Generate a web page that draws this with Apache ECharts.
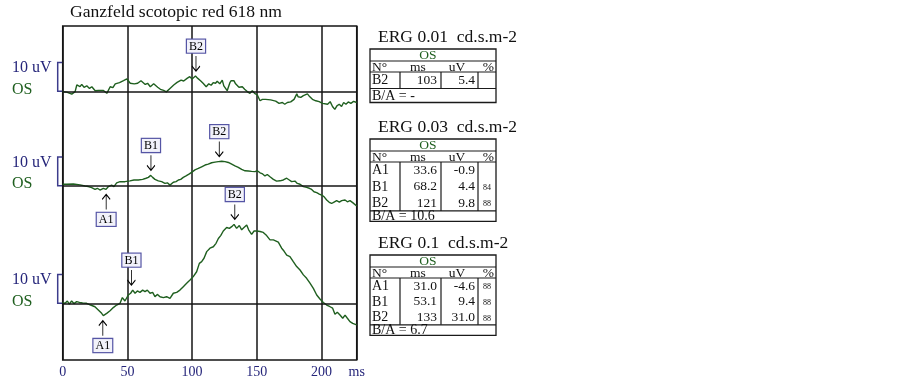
<!DOCTYPE html>
<html>
<head>
<meta charset="utf-8">
<script src="https://cdn.jsdelivr.net/npm/echarts@6/dist/echarts.min.js"></script>
<style>
  html, body { margin: 0; padding: 0; background: #fff; }
  #chart { width: 903px; height: 380px; }
</style>
</head>
<body>
<div id="chart"></div>
<script>
// ---- data ----
let chartTitle = 'Ganzfeld scotopic red 618 nm';
let eyeLabel   = 'OS';
let scaleLabel = '10 uV';
let scaleUv    = 10;
let xTicks     = [0, 50, 100, 150, 200];
let xUnit      = 'ms';

// trace 1 : ERG 0.01
let trace1Ms = [0,3.1,7.0,9.6,10.9,13.4,14.7,16.5,18.6,20.7,22.5,25.1,27.6,31.5,34.1,36.7,38.8,40.6,43.9,47.0,
  49.6,52.2,55.3,57.9,60.5,63.8,65.6,67.7,70.3,73.4,75.5,78.0,80.1,82.7,85.8,88.4,91.5,93.5,96.1,98.2,
  100.0,101.3,102.6,104.4,106.5,108.5,110.9,112.9,114.7,116.3,118.1,119.4,121.4,123.3,124.5,125.8,127.1,129.2,130.2,132.3,
  133.6,136.2,138.8,140.6,142.6,144.7,146.5,148.3,150.4,152.5,154.3,156.8,160.7,164.6,167.2,169.8,171.6,173.6,176.2,178.8,
  180.9,181.9,184.0,186.0,189.1,190.4,193.0,195.6,198.2,200.8,202.1,204.7,206.7,208.5,210.3,211.9,213.7,215.5,217.1,218.9,
  220.7,222.7,224.8,227.2];
let trace1Uv = [-0.1,-0.3,-1.0,-0.1,2.2,1.6,2.4,1.4,1.9,1.0,1.6,0.2,0.3,0.3,-0.7,1.6,1.3,2.6,3.0,3.7,
  4.3,2.8,2.6,2.8,3.7,2.4,2.8,1.6,2.6,1.4,0.7,0.3,-0.2,0.9,2.2,3.1,3.9,3.6,4.5,5.1,
  4.3,3.9,5.3,4.5,3.7,2.8,1.6,2.6,2.1,3.0,2.8,3.5,2.6,3.9,1.9,1.6,0.2,3.0,3.7,3.7,
  2.6,1.4,1.6,0.7,-0.1,-0.7,0.2,-0.7,-1.3,-3.3,-2.8,-2.8,-3.0,-3.4,-4.2,-3.9,-4.5,-3.9,-3.7,-2.8,
  -0.9,-1.9,-2.1,-1.5,-0.9,-1.6,-2.8,-3.3,-3.6,-4.2,-3.9,-4.5,-3.6,-5.3,-6.3,-5.1,-4.5,-5.3,-3.9,-4.5,
  -3.7,-4.2,-3.5,-3.9];

// trace 2 : ERG 0.03
let trace2Ms = [0,3.1,8.2,13.4,17.2,19.8,22.4,25.0,26.8,28.8,31.4,33.5,35.3,36.6,37.8,39.6,41.7,44.3,48.1,52.0,
  55.1,58.4,61.8,64.4,66.2,68.0,69.5,71.3,73.9,76.5,79.0,80.9,82.9,84.2,85.5,87.6,89.4,91.2,93.2,95.3,
  97.9,100.4,102.2,104.8,107.4,110.0,112.5,115.1,117.7,120.3,122.9,125.4,128.0,130.6,133.1,135.7,138.3,140.9,143.5,146.0,
  148.6,150.4,152.5,154.5,156.3,158.1,160.2,162.8,165.3,167.9,170.5,173.1,175.1,176.9,179.5,181.3,183.4,186.0,188.5,190.6,
  192.4,194.2,196.3,198.3,200.1,201.9,204.0,206.0,207.8,209.7,211.7,213.8,215.6,218.2,220.0,222.0,224.1,227.2];
let trace2Uv = [0.5,0.5,0.6,0.3,-0.1,-0.3,-0.7,-1.3,-0.9,-1.5,-0.9,-1.3,-0.3,-0.9,0.2,-0.3,1.0,1.4,1.4,1.7,
  2.0,2.0,2.2,2.6,2.9,3.6,2.9,2.2,1.7,1.4,0.8,1.0,0.2,0.6,1.2,1.4,2.0,2.2,2.9,3.4,
  4.1,4.9,5.5,6.0,6.6,7.2,7.5,8.0,8.2,8.4,8.5,8.4,8.1,7.5,6.9,6.4,5.7,5.2,5.1,5.0,
  4.9,5.2,4.5,4.1,3.4,3.9,3.1,2.2,1.6,1.7,2.0,2.6,2.0,1.4,1.6,0.8,0.5,-0.3,-0.6,-0.9,
  -1.3,-2.1,-2.4,-2.9,-3.3,-3.8,-5.0,-5.8,-6.2,-5.7,-5.2,-5.7,-5.2,-5.0,-5.6,-5.2,-5.9,-7.1];

// trace 3 : ERG 0.1
let trace3Ms = [0,1.8,3.6,5.1,6.9,8.7,10.8,12.9,15.4,18.5,21.6,24.9,27.5,30.1,31.4,34.0,36.6,39.1,41.7,44.3,
  46.1,48.1,49.4,50.7,52.5,54.1,55.9,57.7,59.7,61.8,63.6,65.4,67.5,69.5,71.3,73.1,75.2,77.8,80.3,82.9,
  85.5,88.1,90.6,93.2,95.8,98.4,100.9,103.5,105.6,107.4,109.2,111.3,113.8,116.4,118.5,120.3,122.1,124.1,126.7,128.8,
  130.6,132.4,134.4,136.5,138.3,140.1,142.2,143.7,146.0,147.9,149.9,152.5,155.0,157.6,160.2,162.8,166.6,169.2,171.0,173.1,
  175.6,178.2,180.8,183.4,186.0,188.5,191.1,193.7,196.3,198.8,201.4,204.0,206.6,208.6,210.4,212.2,214.3,216.4,218.2,220.0,
  222.0,224.1,227.2];
let trace3Uv = [0.3,0,0.8,-0.3,0.8,-0.1,0.6,0.3,0.1,0,-0.6,-1.2,-2.3,-3.5,-4.3,-3.5,-2.6,-1.5,-0.6,0,
  2.0,0.8,1.2,2.9,3.5,4.6,3.5,4.3,3.8,4.6,4.1,4.6,3.5,3.8,2.3,3.1,2.3,2.0,2.3,1.7,
  3.5,3.8,4.6,5.8,7.0,8.1,9.3,11.0,13.9,14.5,15.7,18.0,19.2,19.7,20.9,22.6,23.6,25.2,26.4,26.1,
  26.7,27.5,26.1,27.1,25.6,26.4,27.3,25.6,24.0,25.2,25.2,25.0,24.7,23.6,22.1,22.1,21.3,19.2,18.2,16.8,
  16.3,14.5,12.8,11.6,9.9,8.7,7.0,5.2,2.9,1.5,0.3,-0.6,-1.2,-1.7,-3.8,-3.1,-4.1,-5.2,-4.1,-5.2,
  -6.4,-7.0,-7.5];

// peak markers: name, ms, uV on the trace, arrow direction
let trace1Marks = [['B2', 103, 5.3, 'down']];
let trace2Marks = [['A1', 33.6, -1.3, 'up'], ['B1', 68.2, 3.6, 'down'], ['B2', 121, 8.4, 'down']];
let trace3Marks = [['A1', 31.0, -4.3, 'up'], ['B1', 53.1, 4.6, 'down'], ['B2', 133, 27.5, 'down']];

// result tables
let tableTitles = ['ERG 0.01  cd.s.m-2', 'ERG 0.03  cd.s.m-2', 'ERG 0.1  cd.s.m-2'];
let tableHeader = ['N\u00b0', 'ms', 'uV', '%'];
let table1Rows  = [['B2', '103', '5.4', '']];
let table2Rows  = [['A1', '33.6', '-0.9', ''], ['B1', '68.2', '4.4', '84'], ['B2', '121', '9.8', '88']];
let table3Rows  = [['A1', '31.0', '-4.6', '88'], ['B1', '53.1', '9.4', '88'], ['B2', '133', '31.0', '88']];
let tableRatios = ['B/A = -', 'B/A = 10.6', 'B/A = 6.7'];

// ---- layout ----
const SERIF      = 'Liberation Serif';
const GREEN      = '#1f5f1f';
const NAVY       = '#25257a';
const GRID_TOP   = 26;
const GRID_BOT   = 360;
const PX_PER_UV  = 2.87;
const BASELINES  = [91.3, 185.7, 303.3];   // pixel row of each trace's zero line
const X_MAX      = 227.2;

const ARROW_DOWN = 'path://M4,0L4,15M0.5,10L4,15L7.5,10';
const ARROW_UP   = 'path://M4,15L4,0M0.5,5L4,0L7.5,5';

let traces = [[trace1Ms, trace1Uv, trace1Marks], [trace2Ms, trace2Uv, trace2Marks], [trace3Ms, trace3Uv, trace3Marks]];

function yAxisFor(i){
    let b = BASELINES[i];
    return {
        type: 'value', gridIndex: 0, show: false,
        min: -(GRID_BOT - b) / PX_PER_UV,
        max: (b - GRID_TOP) / PX_PER_UV,
        splitLine: { show: false }
    };
}

function markPointFor(marks){
    let data = [];
    for(let i = 0; i < marks.length; i++){
        let m = marks[i];
        let down = m[3] === 'down';
        data.push({
            name: m[0],
            coord: [m[1], m[2]],
            symbol: down ? ARROW_DOWN : ARROW_UP,
            symbolSize: [8, 15],
            symbolOffset: [0, down ? -12.5 : 12.5],
            label: { position: down ? 'top' : 'bottom' }
        });
    }
    return {
        silent: true,
        data: data,
        itemStyle: { color: 'none', borderColor: '#000', borderWidth: 1.1 },
        label: {
            show: true, formatter: '{b}', distance: 0,
            color: '#000', fontFamily: SERIF, fontSize: 12, lineHeight: 12,
            backgroundColor: '#f2f2fa', borderColor: '#5555a5', borderWidth: 1.2,
            padding: [1, 2, 0, 2]
        }
    };
}

let series = [];
let yAxes  = [];
for(let i = 0; i < traces.length; i++){
    let t = traces[i];
    let data = [];
    for(let k = 0; k < t[0].length; k++){
        data.push([t[0][k], t[1][k]]);
    }
    yAxes.push(yAxisFor(i));
    series.push({
        type: 'line',
        yAxisIndex: i,
        data: data,
        showSymbol: false,
        symbol: 'none',
        lineStyle: { color: GREEN, width: 1.4 },
        z: 3,
        markLine: {
            silent: true,
            symbol: ['none', 'none'],
            label: { show: false },
            lineStyle: { color: '#151515', width: 1.5, type: 'solid' },
            data: [{ yAxis: 0 }]
        },
        markPoint: markPointFor(t[2])
    });
}

let option = {
    animation: false,
    backgroundColor: '#fff',
    title: {
        text: chartTitle, left: 70, top: 3, padding: 0,
        textStyle: { fontFamily: SERIF, fontSize: 17.6, fontWeight: 'normal', color: '#111' }
    },
    grid: {
        left: 62.7, right: 903 - 356.7, top: GRID_TOP, bottom: 380 - GRID_BOT,
        show: true, borderColor: '#151515', borderWidth: 1.5, backgroundColor: 'transparent'
    },
    xAxis: {
        type: 'value', min: 0, max: X_MAX, interval: 50,
        axisLine: { show: false },
        axisTick: { show: false },
        axisLabel: {
            margin: 5, color: NAVY, fontFamily: SERIF, fontSize: 14,
            showMaxLabel: true,
            formatter: function(v){
                if (v > xTicks[xTicks.length - 1]) return xUnit;
                return xTicks.indexOf(v) >= 0 ? String(v) : '';
            }
        },
        splitLine: { show: true, lineStyle: { color: '#151515', width: 1.5 } }
    },
    yAxis: yAxes,
    series: series
};

let chart = echarts.init(document.getElementById('chart'));
chart.setOption(option);

// ---- scale brackets and eye labels, placed through the axes ----
let graphics = [];
let xLeft = chart.convertToPixel({ xAxisIndex: 0 }, 0);
for(let i = 0; i < traces.length; i++){
    let y0  = chart.convertToPixel({ yAxisIndex: i }, 0);
    let y10 = chart.convertToPixel({ yAxisIndex: i }, scaleUv);
    graphics.push({
        type: 'polyline',
        shape: { points: [[xLeft - 0.5, y10], [xLeft - 5, y10], [xLeft - 5, y0], [xLeft - 0.5, y0]] },
        style: { stroke: '#3c3c8c', lineWidth: 1.5, fill: 'none' }
    });
    graphics.push({
        type: 'text',
        style: { text: scaleLabel, x: 12, y: y10 + 5.5, fill: NAVY, font: '16px ' + SERIF, textVerticalAlign: 'middle' }
    });
    graphics.push({
        type: 'text',
        style: { text: eyeLabel, x: 12, y: y0 - 2, fill: GREEN, font: '16px ' + SERIF, textVerticalAlign: 'middle' }
    });
}

// ---- result tables ----
const T_LEFT   = 370;
const T_RIGHT  = 496;
const T_COLS   = [400, 441, 478];
const T_TOPS   = [49, 139, 255];
const T_ROW_H  = [16.5, 16.3, 15.6];
const T_BA_H   = [14, 10.5, 10.5];

function line(x1, y1, x2, y2){
    return { type: 'line', shape: { x1: x1, y1: y1, x2: x2, y2: y2 }, style: { stroke: '#1a1a1a', lineWidth: 1.2 } };
}
function txt(s, x, y, size, align, color){
    return {
        type: 'text',
        style: { text: s, x: x, y: y, fill: color || '#111', font: size + 'px ' + SERIF,
                 textAlign: align || 'left', textVerticalAlign: 'middle' }
    };
}

function buildTable(idx, rows){
    let top = T_TOPS[idx];
    let rh  = T_ROW_H[idx];
    let els = [];
    let osBot   = top + 12;
    let headBot = osBot + 11;
    let dataBot = headBot + rh * rows.length;
    let bottom  = dataBot + T_BA_H[idx];

    els.push(txt(tableTitles[idx], 378, top - 11.5, 17.5));
    els.push({
        type: 'rect',
        shape: { x: T_LEFT, y: top, width: T_RIGHT - T_LEFT, height: bottom - top },
        style: { fill: '#fff', stroke: '#1a1a1a', lineWidth: 1.3 }
    });
    els.push(line(T_LEFT, osBot, T_RIGHT, osBot));
    els.push(line(T_LEFT, headBot, T_RIGHT, headBot));
    els.push(line(T_LEFT, dataBot, T_RIGHT, dataBot));
    for(let c = 0; c < T_COLS.length; c++){
        els.push(line(T_COLS[c], headBot, T_COLS[c], dataBot));
    }
    els.push(txt(eyeLabel, 428, (top + osBot) / 2 + 0.5, 13.5, 'center', GREEN));

    let hy = (osBot + headBot) / 2 + 0.5;
    els.push(txt(tableHeader[0], 372, hy, 13.5));
    els.push(txt(tableHeader[1], 418, hy, 13.5, 'center'));
    els.push(txt(tableHeader[2], 457, hy, 13.5, 'center'));
    els.push(txt(tableHeader[3], 494, hy, 13.5, 'right'));

    for(let r = 0; r < rows.length; r++){
        let ry = headBot + rh * r + rh / 2 + 0.5;
        let row = rows[r];
        els.push(txt(row[0], 372, ry, 14));
        els.push(txt(row[1], 437, ry, 13.5, 'right'));
        els.push(txt(row[2], 475, ry, 13.5, 'right'));
        els.push(txt(row[3], 487, ry + 1, 8, 'center'));
    }
    els.push(txt(tableRatios[idx], 372, (dataBot + bottom) / 2 + 0.5, 14));
    return els;
}

let tableRows = [table1Rows, table2Rows, table3Rows];
for(let i = 0; i < tableRows.length; i++){
    graphics = graphics.concat(buildTable(i, tableRows[i]));
}

chart.setOption({ graphic: graphics });
</script>
</body>
</html>
